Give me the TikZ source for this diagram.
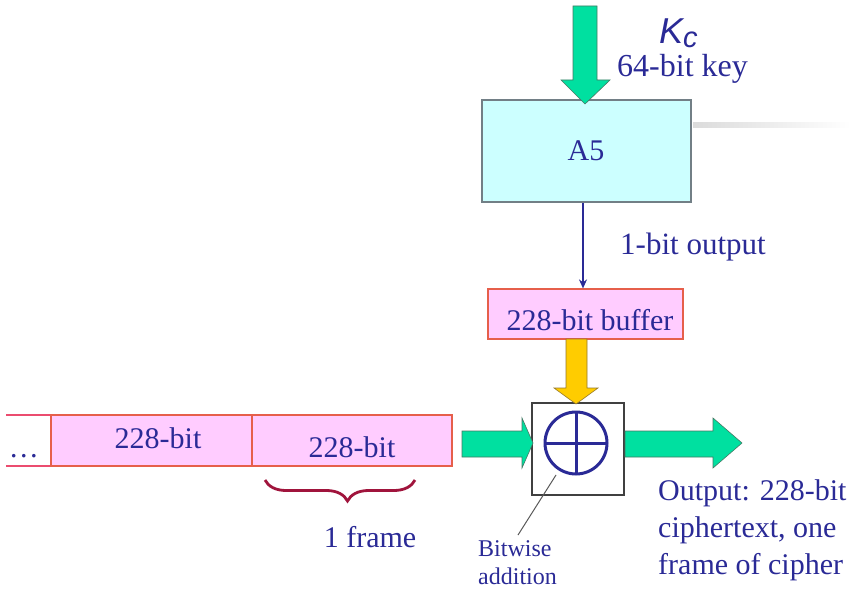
\documentclass[tikz,border=0pt]{standalone}
\usepackage{fontspec}
\setmainfont{Liberation Serif}
\newfontfamily\arialf{Liberation Sans}
\usetikzlibrary{arrows.meta,decorations.pathreplacing}
\definecolor{txtblue}{RGB}{42,42,150}
\definecolor{fatgreen}{RGB}{0,224,160}
\definecolor{fatgreenedge}{RGB}{70,120,100}
\definecolor{gold}{RGB}{255,204,0}
\definecolor{goldedge}{RGB}{150,120,40}
\definecolor{cyanfill}{RGB}{204,255,255}
\definecolor{pinkfill}{RGB}{255,204,255}
\definecolor{celledge}{RGB}{230,95,75}
\definecolor{bracered}{RGB}{160,20,60}
\begin{document}
\begin{tikzpicture}[x=1pt,y=-1pt,
  txt/.style={text=txtblue,font=\fontsize{30}{36}\selectfont,inner sep=0pt},
  smalltxt/.style={text=txtblue,font=\fontsize{24}{29}\selectfont,inner sep=0pt},
  boxa/.style={draw=black!60!cyan!40!gray,line width=1.5pt,fill=cyanfill,inner sep=0pt},
  pinkbox/.style={draw=celledge,line width=1.2pt,fill=pinkfill,inner sep=0pt},
  greenarrow/.style={fill=fatgreen,draw=fatgreenedge,line width=0.6pt},
  goldarrow/.style={fill=gold,draw=goldedge,line width=0.6pt},
  thinarrow/.style={draw=txtblue,line width=2pt,-{Stealth[length=9pt,width=8pt]}}]
\useasboundingbox (0,0) rectangle (851,591);

% faint shadow line
\shade[left color=black!14,right color=white] (693,123) rectangle (851,128);

% A5 box
\node[boxa,minimum width=209pt,minimum height=102pt] (a5) at (586.5,151) {};
\node[txt] (a5t) at (586,151) {A5};

% key arrow
\filldraw[greenarrow] (573,6) -- (597,6) -- (597,80) -- (610,80) -- (585,104) -- (561,80) -- (573,80) -- cycle;
\node[anchor=base west,inner sep=0pt,text=txtblue] (kc) at (659,44)
  {\arialf\itshape\fontsize{36}{36}\selectfont K\raisebox{-4pt}{\fontsize{29}{29}\selectfont c}};
\node[txt,anchor=base west,font=\fontsize{32}{36}\selectfont] (keyt) at (617,77) {64-bit key};

% buffer
\node[pinkbox,minimum width=195pt,minimum height=50pt] (buf) at (585.5,314) {};
\node[txt,anchor=base] (buft) at (590,330) {228-bit buffer};
\draw[thinarrow] ([xshift=-3.5pt]a5.south) -- ([xshift=-3.5pt]a5.south |- buf.north);
\node[txt,anchor=west,font=\fontsize{31}{36}\selectfont] (outb) at (620,247) {1-bit output};

% XOR box
\node[draw=black!75,line width=1.3pt,fill=white,minimum width=92pt,minimum height=92pt,inner sep=0pt] (xor) at (578,449) {};
\coordinate (xc) at (576,443);
\draw[txtblue,line width=3pt] (xc) circle (31);
\draw[txtblue,line width=3pt] ([yshift=-31pt]xc) -- ([yshift=31pt]xc);
\draw[txtblue,line width=3pt] ([xshift=-31pt]xc) -- ([xshift=31pt]xc);

% gold arrow
\filldraw[goldarrow] (566,339) -- (587,339) -- (587,388) -- (598,388) -- (576,404) -- (554,388) -- (566,388) -- cycle;

% frames
\draw[draw=celledge!80!magenta,line width=1.2pt] (6,415) -- (51,415) (6,466) -- (51,466);
\node[pinkbox,minimum width=201pt,minimum height=51pt] (cell1) at (151.5,440.5) {};
\node[pinkbox,minimum width=200pt,minimum height=51pt] (cell2) at (352,440.5) {};
\node[txt,anchor=base] (dots) at (24,457) {\ldots};
\node[txt,anchor=base] (c1t) at (158,448) {228-bit};
\node[txt,anchor=base] (c2t) at (352,457) {228-bit};

% input and output arrows
\filldraw[greenarrow] (462,431) -- (522,431) -- (522,418) -- (533,443) -- (522,468) -- (522,457) -- (462,457) -- cycle;
\filldraw[greenarrow] (625,431) -- (713,431) -- (713,418) -- (742,443) -- (713,468) -- (713,457) -- (625,457) -- cycle;

% brace
\coordinate (bl) at (265,480);
\coordinate (br) at (415,480);
\draw[bracered,line width=2.8pt,decorate,decoration={brace,mirror,amplitude=21pt,aspect=0.55}] (bl) -- (br);
\node[txt,anchor=base] (frame) at (370,547) {1 frame};

% bitwise addition label
\coordinate (lead) at (556,475);
\node[smalltxt,anchor=base west] (bw) at (478,556) {Bitwise};
\node[smalltxt,anchor=base west] (bw2) at (478,584) {addition};
\draw[black!65,line width=1pt] (lead) -- (518,535);

% output text
\node[txt,anchor=base west] (o1) at (658,500) {Output: 228-bit};
\node[txt,anchor=base west] (o2) at (658,537) {ciphertext, one};
\node[txt,anchor=base west] (o3) at (658,574) {frame of cipher};
\end{tikzpicture}
\end{document}
